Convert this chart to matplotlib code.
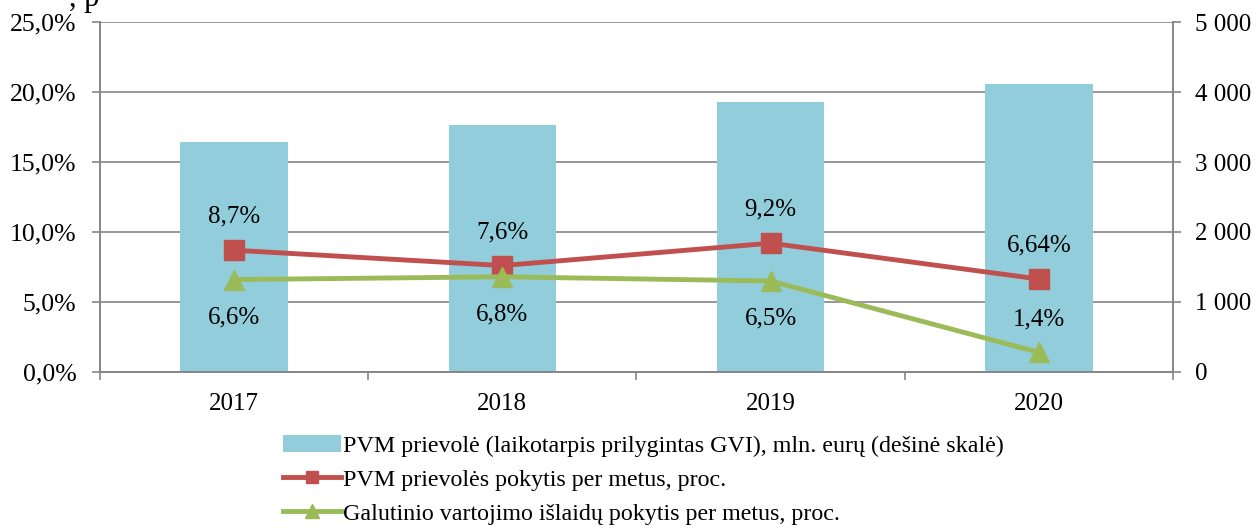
import numpy as np
import matplotlib.pyplot as plt
from matplotlib.ticker import FuncFormatter, FixedLocator

plt.rcParams['font.family'] = ['Liberation Serif', 'DejaVu Serif']
plt.rcParams['font.size'] = 18

years = ['2017', '2018', '2019', '2020']
pvm_mln = [3290, 3530, 3860, 4115]          # right scale
pvm_change = [8.7, 7.6, 9.2, 6.64]          # %
consumption_change = [6.6, 6.8, 6.5, 1.4]   # %
pvm_labels = ['8,7%', '7,6%', '9,2%', '6,64%']
cons_labels = ['6,6%', '6,8%', '6,5%', '1,4%']

bar_col = '#92CDDC'
red = '#C0504D'
green = '#9BBB59'
grey = '#868686'

x = np.arange(len(years))

fig = plt.figure(figsize=(12.59, 5.28), dpi=100)
ax = fig.add_axes([0.0794, 0.2955, 0.8523, 0.6628])
ax2 = ax.twinx()

# bars on the right scale, behind the lines
bars = ax2.bar(x, pvm_mln, width=0.4, color=bar_col, zorder=2,
               label='PVM prievolė (laikotarpis prilygintas GVI), mln. eurų (dešinė skalė)')
ax2.set_ylim(0, 5000)
ax2.set_yticks(np.arange(0, 5001, 1000))
ax2.yaxis.set_major_formatter(FuncFormatter(lambda v, p: f'{int(v):,}'.replace(',', ' ')))
ax2.grid(axis='y', color=grey, lw=1.2, zorder=0)
ax2.set_axisbelow(True)

ax.set_zorder(ax2.get_zorder() + 1)
ax.patch.set_visible(False)

l1, = ax.plot(x, pvm_change, color=red, lw=3.5, marker='s', ms=14,
              label='PVM prievolės pokytis per metus, proc.')
l2, = ax.plot(x, consumption_change, color=green, lw=3.5, marker='^', ms=15,
              label='Galutinio vartojimo išlaidų pokytis per metus, proc.')

for i in range(len(years)):
    ax.annotate(pvm_labels[i], (x[i], pvm_change[i]), xytext=(0, 24),
                textcoords='offset points', ha='center', va='center')
    off = 24 if i == 3 else -27
    ax.annotate(cons_labels[i], (x[i], consumption_change[i]), xytext=(0, off),
                textcoords='offset points', ha='center', va='center')

ax.set_ylim(0, 25)
ax.set_yticks(np.arange(0, 26, 5))
ax.yaxis.set_major_formatter(FuncFormatter(lambda v, p: f'{v:.1f}%'.replace('.', ',')))
ax.set_xlim(-0.5, 3.5)
ax.xaxis.set_major_locator(FixedLocator(np.arange(-0.5, 3.6, 1)))
ax.set_xticklabels([])
ax.set_xticks(x, minor=True)
ax.set_xticklabels(years, minor=True)
ax.tick_params(axis='x', which='major', length=6, color=grey, width=1.2)
ax.tick_params(axis='x', which='minor', length=0, pad=15)
ax.tick_params(axis='y', length=6, color=grey, width=1.2, pad=11, labelsize=18.5)
ax2.tick_params(axis='y', length=6, color=grey, width=1.2, pad=10)

for a in (ax, ax2):
    a.spines['top'].set_visible(False)
    for s in ('left', 'right', 'bottom'):
        a.spines[s].set_color(grey)
        a.spines[s].set_linewidth(1.2)

# title fragment cut at the top edge, as in the source image
fig.text(0.055, 1 - 6 / 528, ', p', fontsize=22, va='baseline')

fig.legend(handles=[bars, l1, l2], loc='upper left', bbox_to_anchor=(0.2248, 0.176),
           frameon=False, handlelength=2.4, handletextpad=0.1, labelspacing=0.5,
           borderaxespad=0, borderpad=0, fontsize=17.3, markerscale=0.65)

fig.savefig('out.png', dpi=100)
